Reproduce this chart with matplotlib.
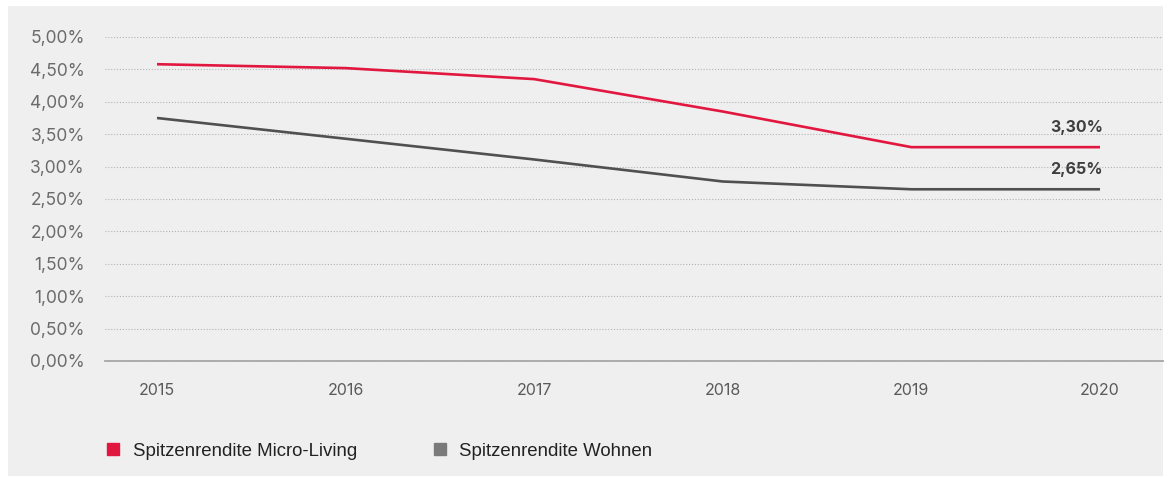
import matplotlib
matplotlib.use("Agg")
import matplotlib.pyplot as plt
from matplotlib.lines import Line2D
from matplotlib.patches import Rectangle
from matplotlib.ticker import FuncFormatter

# Data
years = ["2015", "2016", "2017", "2018", "2019", "2020"]
micro_living = [4.58, 4.52, 4.35, 3.85, 3.30, 3.30]
wohnen = [3.75, 3.43, 3.11, 2.77, 2.65, 2.65]
series_names = ["Spitzenrendite Micro-Living", "Spitzenrendite Wohnen"]
y_ticks = [0.0, 0.5, 1.0, 1.5, 2.0, 2.5, 3.0, 3.5, 4.0, 4.5, 5.0]

RED = "#e2173f"
GREY_LINE = "#505050"
GREY_BOX = "#7a7a7a"
PANEL = "#efefef"

W, H = 1176, 478
fig = plt.figure(figsize=(W / 100, H / 100), dpi=100, facecolor="white")

# light grey panel behind the chart
fig.patches.append(Rectangle((8 / W, 2 / H), (1163 - 8) / W, (472 - 2) / H,
                             transform=fig.transFigure, facecolor=PANEL,
                             edgecolor="none", zorder=-10))

ax_left, ax_right = 105, 1163
ax_top, ax_bottom = 37, 361
ax = fig.add_axes([ax_left / W, (H - ax_bottom) / H,
                   (ax_right - ax_left) / W, (ax_bottom - ax_top) / H])
ax.set_facecolor("none")
ax.set_zorder(1)

x = list(range(len(years)))
ax.plot(x, micro_living, color=RED, lw=1.9, solid_capstyle="butt", zorder=3, clip_on=False)
ax.plot(x, wohnen, color=GREY_LINE, lw=1.9, solid_capstyle="butt", zorder=3, clip_on=False)

# x range so that 2015 sits ~52px and 2020 ~63px inside the plot edges
step = (1100 - 157) / 5
ax.set_xlim(-(157 - ax_left) / step, 5 + (ax_right - 1100) / step)
ax.set_ylim(0, 5.0)

ax.set_yticks(y_ticks)
ax.yaxis.set_major_formatter(FuncFormatter(lambda v, _: f"{v:.2f}%".replace(".", ",")))
ax.set_xticks(x)
ax.set_xticklabels(years)

for s in ["top", "right", "left"]:
    ax.spines[s].set_visible(False)
ax.spines["bottom"].set_color("#a6a6a6")
ax.spines["bottom"].set_linewidth(1.3)

ax.grid(axis="y", color="#b3b3b3", linestyle=(0, (1, 1.6)), linewidth=0.8)
ax.grid(axis="x", visible=False)
ax.set_axisbelow(True)

ax.tick_params(axis="y", length=0, pad=14.5, labelsize=12.5, labelcolor="#6b6b6b")
ax.tick_params(axis="x", length=0, pad=16, labelsize=11.5, labelcolor="#5a5a5a")
for lab in ax.get_yticklabels():
    lab.set_fontfamily("Inter")
for lab in ax.get_xticklabels():
    lab.set_fontfamily("Inter")

# value labels at the last year
for vals in (micro_living, wohnen):
    ax.annotate(f"{vals[-1]:.2f}%".replace(".", ","), xy=(x[-1], vals[-1]),
                xytext=(2, 14.5), textcoords="offset points",
                ha="right", va="center", fontsize=11.5, fontweight="bold",
                color="#3f3f3f", family="Inter", annotation_clip=False)

handles = [Line2D([], [], marker="s", linestyle="none", markersize=8, color=RED),
           Line2D([], [], marker="s", linestyle="none", markersize=8, color=GREY_BOX)]
fig.legend(handles, series_names, loc="center left",
           bbox_to_anchor=(104 / W, (H - 451) / H), ncol=2, frameon=False,
           prop={"family": "Liberation Sans", "size": 13.4}, labelcolor="#222222",
           handlelength=1.0, handletextpad=0.55, columnspacing=3.95,
           borderaxespad=0, borderpad=0)

fig.savefig("out.png", dpi=100, facecolor="white")
